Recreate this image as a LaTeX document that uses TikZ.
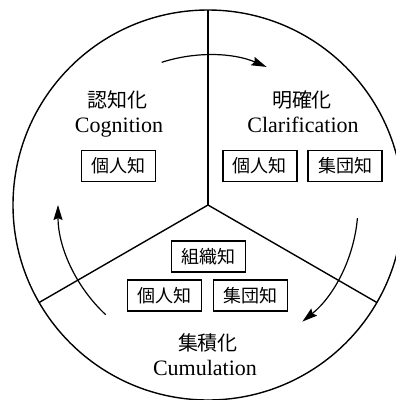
\documentclass[tikz,border=0pt]{standalone}
\usepackage{fontspec}
\setmainfont{Liberation Serif}
\newfontfamily\jp{Noto Sans CJK JP}
\usetikzlibrary{arrows.meta,calc}
\tikzset{
  knbox/.style={draw,line width=1.2pt,minimum width=74pt,minimum height=31pt,inner sep=0pt,font=\jp\fontsize{18}{20}\selectfont},
  jplabel/.style={font=\jp\fontsize{20}{22}\selectfont,inner sep=0pt},
  enlabel/.style={font=\fontsize{22}{24}\selectfont,inner sep=0pt,anchor=base},
  cyc/.style={line width=1.2pt,-{Stealth[length=15pt,width=9pt,inset=2pt]}}
}
\begin{document}
\begin{tikzpicture}[x=1pt,y=1pt]
\useasboundingbox (0,0) rectangle (396,-400);
\clip (0,0) rectangle (396,-400);
\coordinate (O) at (208,-205);
\coordinate (T) at ($(O)+(90:195pt)$);
\coordinate (L) at ($(O)+(210:195pt)$);
\coordinate (R) at ($(O)+(330:195pt)$);
\draw[line width=1.4pt] (O) circle[radius=195pt];
\draw[line width=1.4pt] (O) -- (T);
\draw[line width=1.4pt] (O) -- (L);
\draw[line width=1.4pt] (O) -- (R);
% cycle arrows
\draw[cyc] ($(O)+(108:150pt)$) arc[start angle=108,end angle=67,radius=150pt];
\draw[cyc] ($(O)+(-5:150pt)$) arc[start angle=-5,end angle=-51,radius=150pt];
\draw[cyc] ($(O)+(227:150pt)$) arc[start angle=227,end angle=180,radius=150pt];
% labels
\node[jplabel] (n1) at (118,-100) {認知化};
\node[enlabel] (e1) at (119,-132) {Cognition};
\node[jplabel] (n2) at (302,-100) {明確化};
\node[enlabel] (e2) at (303,-132) {Clarification};
\node[jplabel] (n3) at (208,-343) {集積化};
\node[enlabel] (e3) at (205,-375) {Cumulation};
% boxes
\node[knbox] (b1) at (118.5,-166) {個人知};
\node[knbox] (b2) at (260,-166) {個人知};
\node[knbox] (b3) at (345,-166) {集団知};
\node[knbox] (b4) at (208.5,-256.5) {組織知};
\node[knbox] (b5) at (164.5,-295.5) {個人知};
\node[knbox] (b6) at (250.5,-295.5) {集団知};
\end{tikzpicture}
\end{document}
